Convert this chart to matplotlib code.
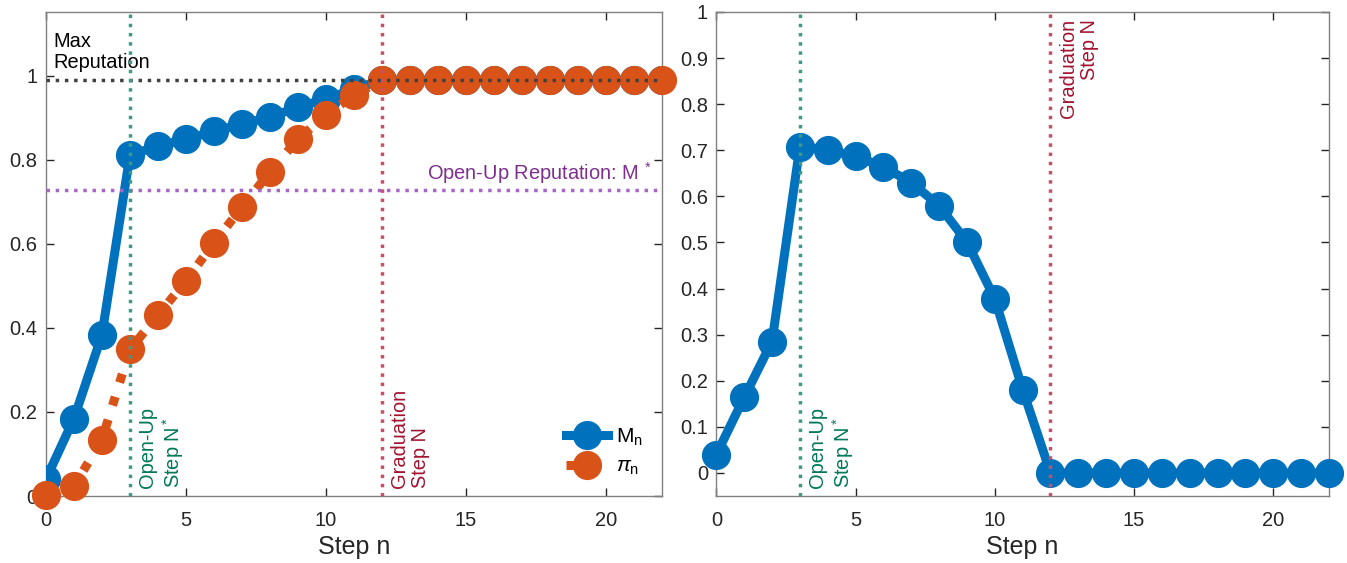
import matplotlib
matplotlib.use("Agg")
import matplotlib.pyplot as plt
import numpy as np

plt.rcParams['font.family'] = ['Liberation Sans', 'DejaVu Sans']
plt.rcParams['mathtext.fontset'] = 'custom'
plt.rcParams['mathtext.rm'] = 'Liberation Sans'
plt.rcParams['mathtext.it'] = 'Liberation Sans:italic'

steps = list(range(23))
M_n = [0.04, 0.184, 0.383, 0.811, 0.833, 0.849, 0.868, 0.885, 0.902, 0.925, 0.945, 0.968,
       0.99, 0.99, 0.99, 0.99, 0.99, 0.99, 0.99, 0.99, 0.99, 0.99, 0.99]
pi_n = [0.002, 0.023, 0.134, 0.349, 0.430, 0.512, 0.602, 0.687, 0.771, 0.849, 0.906, 0.954,
        0.99, 0.99, 0.99, 0.99, 0.99, 0.99, 0.99, 0.99, 0.99, 0.99, 0.99]
diff_n = [0.040, 0.164, 0.285, 0.708, 0.701, 0.687, 0.664, 0.630, 0.580, 0.501, 0.378, 0.181,
          0, 0, 0, 0, 0, 0, 0, 0, 0, 0, 0]
max_rep = 0.99
open_up_rep = 0.728
open_up_step = 3
grad_step = 12

BLUE = '#0072BD'
ORANGE = '#D95319'
GREEN_LINE = '#3f9a84'
GREEN_TXT = '#00785a'
RED_LINE = '#c4506a'
RED_TXT = '#A2142F'
PURP_LINE = '#a865c9'
PURP_TXT = '#7E2F8E'
AX_COL = '#262626'

fig = plt.figure(figsize=(13.47, 5.63), dpi=100)
ax1 = fig.add_axes([0.0341, 0.119, 0.4571, 0.8597])
ax2 = fig.add_axes([0.5318, 0.119, 0.4548, 0.8597])

lw = 6.5
ms = 20
tfs = 14.4

def style(ax):
    for s in ax.spines.values():
        s.set_color('#808080')
        s.set_linewidth(1.0)
    ax.tick_params(direction='in', top=True, right=True, length=6, width=1.0,
                   colors=AX_COL, labelsize=14.5, pad=6)
    ax.tick_params(axis='x', pad=11)
    ax.set_xlabel('Step n', fontsize=18, color=AX_COL)
    ax.xaxis.set_label_coords(0.5, -0.08)
    ax.set_xlim(0, 22)
    ax.set_xticks([0, 5, 10, 15, 20])

# Left panel
ax1.plot(steps, M_n, '-o', color=BLUE, lw=lw, ms=ms, label='M$_\\mathrm{n}$', zorder=3)
ax1.plot(steps, pi_n, ':o', color=ORANGE, lw=lw, ms=ms, label='$\\pi_\\mathrm{n}$',
         dash_capstyle='butt', zorder=4, clip_on=False)
ax1.axhline(max_rep, color='#404040', ls=':', lw=2.5, zorder=5)
ax1.axhline(open_up_rep, color=PURP_LINE, ls=':', lw=2.5, zorder=5)
ax1.axvline(open_up_step, color=GREEN_LINE, ls=':', lw=2.5, zorder=5)
ax1.axvline(grad_step, color=RED_LINE, ls=':', lw=2.5, zorder=5)
ax1.set_ylim(0, 1.152)
ax1.set_yticks([0, 0.2, 0.4, 0.6, 0.8, 1])
ax1.set_yticklabels(['0', '0.2', '0.4', '0.6', '0.8', '1'])
style(ax1)
ax1.text(0.28, 1.008, 'Max\nReputation', fontsize=tfs, color='black', ha='left', va='bottom',
         linespacing=1.15)
ax1.text(21.65, 0.737, 'Open-Up Reputation: M$^{\\ *}$', fontsize=tfs, color=PURP_TXT,
         ha='right', va='bottom')
ax1.text(3.3, 0.018, 'Open-Up\nStep N$^*$', rotation=90, fontsize=tfs, color=GREEN_TXT,
         ha='left', va='bottom', multialignment='left', linespacing=1.15)
ax1.text(12.3, 0.018, 'Graduation\nStep N', rotation=90, fontsize=tfs, color=RED_TXT,
         ha='left', va='bottom', multialignment='left', linespacing=1.15)
leg = ax1.legend(loc='lower right', frameon=False, fontsize=15, handlelength=2.0,
                 bbox_to_anchor=(1.0, 0.0), borderaxespad=0.5, labelspacing=0.45,
                 handletextpad=0.4)

# Right panel
ax2.plot(steps, diff_n, '-o', color=BLUE, lw=lw, ms=ms, zorder=3, clip_on=False)
ax2.axvline(open_up_step, color=GREEN_LINE, ls=':', lw=2.5, zorder=5)
ax2.axvline(grad_step, color=RED_LINE, ls=':', lw=2.5, zorder=5)
ax2.set_ylim(-0.05, 1)
ax2.set_yticks(np.round(np.arange(0, 1.01, 0.1), 1))
ax2.set_yticklabels(['0', '0.1', '0.2', '0.3', '0.4', '0.5', '0.6', '0.7', '0.8', '0.9', '1'])
style(ax2)
ax2.text(3.3, -0.033, 'Open-Up\nStep N$^*$', rotation=90, fontsize=tfs, color=GREEN_TXT,
         ha='left', va='bottom', multialignment='left', linespacing=1.15)
ax2.text(12.3, 0.985, 'Graduation\nStep N', rotation=90, fontsize=tfs, color=RED_TXT,
         ha='left', va='top', multialignment='right', linespacing=1.15)

fig.savefig('out.png', dpi=100)
